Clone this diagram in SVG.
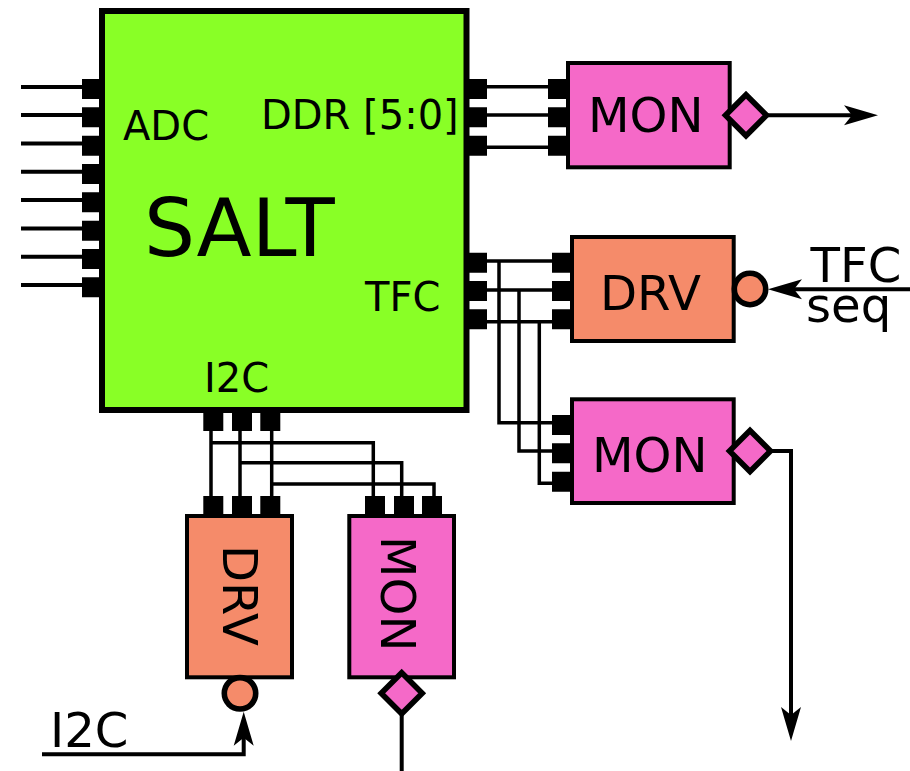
<svg xmlns="http://www.w3.org/2000/svg" width="910" height="771" viewBox="0 0 910 771">
<defs>
<style>
text{font-family:"DejaVu Sans",sans-serif;fill:#000}
.w{fill:none;stroke:#000;stroke-width:4}
.n{fill:none;stroke:#000;stroke-width:3.5}
.p{fill:#000}
.b{stroke:#000;stroke-width:4}
.mon{fill:#f569c8}
.drv{fill:#f58b6a}
.o{stroke:#000;stroke-width:5.6}
.t48{font-size:48.2px}
.t40{font-size:40px}
</style>
<path id="head" d="M0,0 L-34,-10 L-26,0 L-34,10 Z" fill="#000"/>
</defs>
<g id="connectors">
<path class="w" d="M21,87H84M21,115H84M21,143.4H84M21,171.7H84M21,200H84M21,228.4H84M21,256.7H84M21,285H84"/>
<path class="n" d="M485,86.7H550M485,115H550M485,147.3H550"/>
<path class="n" d="M485,261H554M485,290H554M485,321.7H554"/>
<path class="n" d="M499,261V422.7H554M519,290V451H554M539.3,321.7V483.3H554"/>
<path class="n" d="M211,429V498M240,429V498M271.7,429V498"/>
<path class="n" d="M211,442.7H373.3V498M240,462.7H401.7V498M271.7,484H434V498"/>
<path class="w" d="M768,115.3H860"/>
<use href="#head" transform="translate(878,115.3)"/>
<path class="w" d="M910,289.3H785"/>
<use href="#head" transform="translate(768,289.3) rotate(180)"/>
<path class="w" d="M768,451H791V725"/>
<use href="#head" transform="translate(791,741) rotate(90)"/>
<path class="w" d="M42,754.3H243.7V730"/>
<use href="#head" transform="translate(243.7,711.7) rotate(-90)"/>
<path class="w" d="M401.7,712V771"/>
</g>
<g id="salt">
<rect x="102" y="11" width="364.5" height="399" fill="#89ff26" stroke="#000" stroke-width="6"/>
<text x="144" y="256" font-size="80.5">SALT</text>
<text class="t40" x="123" y="140">ADC</text>
<text class="t40" x="261" y="129">DDR [5:0]</text>
<text class="t40" x="365" y="311">TFC</text>
<text class="t40" x="204" y="392">I2C</text>
<path class="p" d="M82,79h20v20h-20zM82,107.3h20v20h-20zM82,135.7h20v20h-20zM82,164h20v20h-20zM82,192.3h20v20h-20zM82,220.7h20v20h-20zM82,249h20v20h-20zM82,277.3h20v20h-20z"/>
<path class="p" d="M467,79h20v20h-20zM467,107.3h20v20h-20zM467,135.7h20v20h-20zM467,252.7h20v20h-20zM467,281h20v20h-20zM467,309.3h20v20h-20z"/>
<path class="p" d="M203.3,411h20v20h-20zM232,411h20v20h-20zM260.3,411h20v20h-20z"/>
</g>
<g id="mon-top">
<path class="p" d="M548,79h20v20h-20zM548,107.3h20v20h-20zM548,135.7h20v20h-20z"/>
<rect class="mon b" x="568" y="63" width="161.7" height="104.3"/>
<text class="t48" x="588" y="132">MON</text>
<path class="mon o" d="M746,94.800L766.500,115.3L746,135.800L725.500,115.3Z"/>
</g>
<g id="drv-right">
<path class="p" d="M552,252.7h20v20h-20zM552,281h20v20h-20zM552,309.3h20v20h-20z"/>
<rect class="drv b" x="572" y="237" width="161.7" height="104"/>
<text class="t48" x="600" y="310">DRV</text>
<circle class="drv o" cx="750" cy="289" r="15.7"/>
</g>
<g id="mon-right">
<path class="p" d="M552,415h20v20h-20zM552,443.3h20v20h-20zM552,471.7h20v20h-20z"/>
<rect class="mon b" x="572" y="399.3" width="161.7" height="103.7"/>
<text class="t48" x="592" y="472">MON</text>
<path class="mon o" d="M750,430.500L770.500,451L750,471.500L729.500,451Z"/>
</g>
<g id="drv-bottom">
<path class="p" d="M203.3,496h20v20h-20zM232,496h20v20h-20zM260.3,496h20v20h-20z"/>
<rect class="drv b" x="187" y="516" width="105" height="161.3"/>
<text class="t48" transform="translate(222.500,545) rotate(90)">DRV</text>
<circle class="drv o" cx="240" cy="693.3" r="15.7"/>
</g>
<g id="mon-bottom">
<path class="p" d="M365,496h20v20h-20zM394,496h20v20h-20zM422,496h20v20h-20z"/>
<rect class="mon b" x="349.3" y="516" width="104.7" height="161.3"/>
<text class="t48" transform="translate(381,536) rotate(90)">MON</text>
<path class="mon o" d="M401.7,672.800L422.200,693.3L401.7,713.800L381.200,693.3Z"/>
</g>
<g id="labels">
<text class="t48" x="810.500" y="282">TFC</text>
<text class="t48" x="806" y="322">seq</text>
<text class="t48" x="50" y="747">I2C</text>
</g>
</svg>
